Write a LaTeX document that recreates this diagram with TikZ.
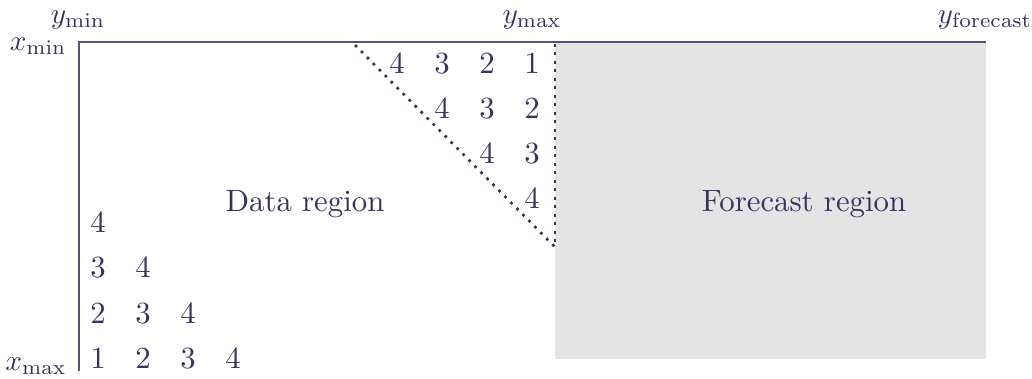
\documentclass[tikz,border=0pt]{standalone}
\usepackage{graphicx}
\usepackage{xcolor}
\definecolor{ink}{RGB}{52,52,96}
\definecolor{fcgray}{RGB}{228,228,228}
\newcommand{\bt}[1]{\scalebox{1.54}{#1}}
\newcommand{\mt}[1]{\scalebox{1.46}{#1}}
\begin{document}
\begin{tikzpicture}[x=0.5pt,y=-0.5pt,
  every node/.style={text=ink,font=\fontsize{10}{12}\selectfont,inner sep=0pt},
  num/.style={anchor=base},
  axis/.style={draw=ink!85,line width=0.55pt},
  dotline/.style={draw=ink,line width=1.35pt,dash pattern=on 1.35pt off 2.9pt}]
\useasboundingbox (0,0) rectangle (1032,379);
% forecast region
\fill[fcgray] (555,42) rectangle (986,359);
% axes
\coordinate (c0) at (79,42);
\coordinate (c1) at (986,42);
\coordinate (c2) at (79,371);
\draw[axis] (c2) -- (c0) -- (c1);
% dotted boundaries
\coordinate (d0) at (355,45);
\coordinate (d1) at (555,247);
\coordinate (v0) at (555,44);
\draw[dotline] (d0) -- (d1);
\draw[dotline] (v0) -- (d1);
% axis labels
\node (ymin) at (78,20) {\mt{$y_{\min}$}};
\node[anchor=east] (xmin) at (67,46) {\mt{$x_{\min}$}};
\node (ymax) at (532,20) {\mt{$y_{\max}$}};
\node (yfc) at (985,20) {\mt{$y_{\mathrm{forecast}}$}};
\node[anchor=east] (xmax) at (67,366) {\mt{$x_{\max}$}};
% region labels
\node[num] (data) at (305,212) {\bt{Data region}};
\node[num] (fore) at (804,212) {\bt{Forecast region}};
% top-right triangle
\node[num] (a14) at (397,74) {\bt{4}};
\node[num] (a13) at (442,74) {\bt{3}};
\node[num] (a12) at (487,74) {\bt{2}};
\node[num] (a11) at (532,74) {\bt{1}};
\node[num] (a24) at (442,119) {\bt{4}};
\node[num] (a23) at (487,119) {\bt{3}};
\node[num] (a22) at (532,119) {\bt{2}};
\node[num] (a34) at (487,164) {\bt{4}};
\node[num] (a33) at (532,164) {\bt{3}};
\node[num] (a44) at (532,209) {\bt{4}};
% bottom-left triangle
\node[num] (b14) at (98,233) {\bt{4}};
\node[num] (b23) at (98,278) {\bt{3}};
\node[num] (b24) at (143,278) {\bt{4}};
\node[num] (b32) at (98,323) {\bt{2}};
\node[num] (b33) at (143,323) {\bt{3}};
\node[num] (b34) at (188,323) {\bt{4}};
\node[num] (b41) at (98,368) {\bt{1}};
\node[num] (b42) at (143,368) {\bt{2}};
\node[num] (b43) at (188,368) {\bt{3}};
\node[num] (b44) at (233,368) {\bt{4}};
\end{tikzpicture}
\end{document}
